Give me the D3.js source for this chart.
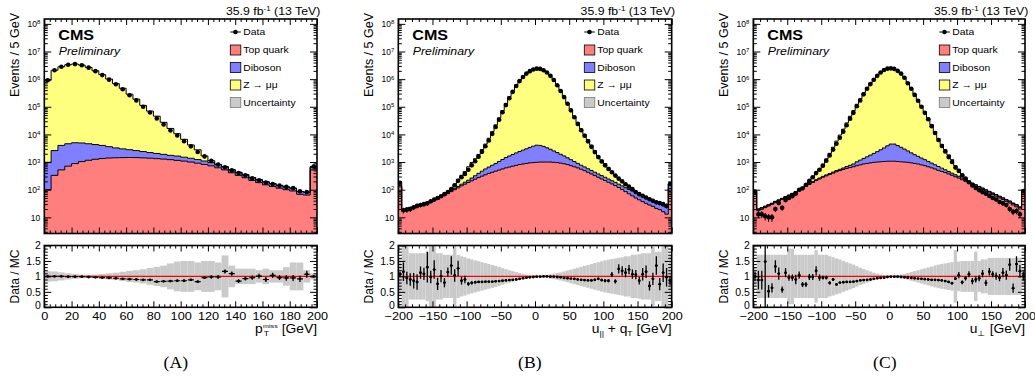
<!DOCTYPE html>
<html>
<head>
<meta charset="utf-8">
<script src="https://cdn.jsdelivr.net/npm/d3@7"></script>
<style>
  body { margin: 0; background: #fff; }
  svg { font-family: "Liberation Sans", Arial, Helvetica, sans-serif; }
</style>
</head>
<body>
<svg id="chart" width="1035" height="380"></svg>
<script>
// ---------- panel (A): p_T^miss, 40 bins of 5 GeV ----------
const ptData = [910000, 2100000, 2800000, 3300000, 3500000, 3200000, 2600000, 1950000, 1400000, 960000,
  650000, 430000, 260000, 170000, 100000, 62000, 38000, 23000, 14000, 9100,
  5700, 3700, 2300, 1600, 1100, 810, 650, 500, 400, 330,
  260, 220, 180, 160, 140, 126, 114, 87, 82, 690];
const ptTop = [100, 330, 520, 710, 880, 1040, 1160, 1260, 1340, 1400,
  1430, 1450, 1460, 1450, 1420, 1380, 1330, 1280, 1220, 1150,
  1080, 1000, 910, 820, 730, 620, 520, 410, 330, 270,
  215, 180, 150, 130, 113, 100, 90, 68, 64, 520];
const ptDiboson = [880, 2270, 3480, 3890, 4120, 3860, 3440, 3040, 2660, 2200,
  1820, 1550, 1340, 1150, 980, 820, 720, 620, 530, 500,
  420, 370, 320, 270, 220, 180, 145, 115, 92, 75,
  60, 50, 42, 35, 29, 25, 22, 17, 16, 130];
const ptZmm = [909000, 2097000, 2796000, 3328000, 3530000, 3227000, 2648000, 2006000, 1454000, 1007000,
  688000, 464400, 282900, 186300, 110000, 67460, 43730, 25480, 14720, 8930,
  5128, 2787, 1541, 577, 172, 27, 19, 5, 4, 3,
  3, 2, 2, 2, 2, 2, 2, 2, 2, 40];
const ptRatio = [1.00, 1.00, 1.00, 0.99, 0.99, 0.99, 0.98, 0.97, 0.96, 0.95,
  0.94, 0.92, 0.91, 0.90, 0.89, 0.89, 0.83, 0.84, 0.85, 0.86,
  0.86, 0.89, 0.83, 0.96, 0.98, 0.98, 1.16, 1.09, 0.85, 0.93,
  0.96, 1.01, 0.90, 1.03, 0.96, 0.95, 0.95, 0.92, 1.07, 1.00];
const ptRatioErr = [0.005, 0.005, 0.005, 0.005, 0.005, 0.005, 0.005, 0.005, 0.005, 0.006,
  0.007, 0.008, 0.01, 0.01, 0.012, 0.014, 0.016, 0.02, 0.022, 0.025,
  0.03, 0.035, 0.04, 0.045, 0.05, 0.055, 0.065, 0.07, 0.06, 0.065,
  0.07, 0.075, 0.08, 0.085, 0.08, 0.09, 0.095, 0.1, 0.11, 0.04];
const ptBand = [0.17, 0.16, 0.13, 0.1, 0.08, 0.06, 0.05, 0.06, 0.08, 0.1,
  0.12, 0.15, 0.18, 0.2, 0.23, 0.27, 0.31, 0.35, 0.42, 0.48,
  0.5, 0.5, 0.45, 0.5, 0.5, 0.45, 0.68, 0.35, 0.25, 0.25,
  0.25, 0.2, 0.25, 0.2, 0.2, 0.3, 0.45, 0.45, 0.2, 0.1];

// ---------- panel (B): u_par + q_T, 80 bins of 5 GeV ----------
const uparData = [178, 18, 19, 20, 23, 26, 28, 30, 32, 38,
  44, 50, 58, 69, 83, 105, 145, 209, 282, 372,
  525, 759, 1072, 1549, 2344, 3715, 6026, 10470, 18620, 33880,
  63100, 114800, 204200, 346700, 562300, 851100, 1202000, 1585000, 1950000, 2239000,
  2399000, 2344000, 2089000, 1738000, 1318000, 933300, 602600, 371500, 223900, 128800,
  74130, 41690, 23990, 14130, 8913, 5623, 3548, 2291, 1514, 1047,
  759, 562, 427, 324, 251, 200, 158, 129, 105, 83,
  69, 60, 52, 45, 40, 35, 33, 30, 26, 160];
const uparTop = [126, 16.6, 18.2, 20, 21.9, 24, 26.3, 28.8, 31.6, 35.5,
  39.8, 44.7, 52.5, 61.7, 72.4, 85.1, 100, 117, 138, 158,
  182, 209, 240, 275, 309, 347, 389, 427, 468, 513,
  562, 617, 661, 708, 759, 813, 851, 891, 933, 955,
  977, 1000, 1000, 1000, 1000, 977, 955, 912, 871, 813,
  741, 676, 617, 550, 490, 427, 372, 324, 282, 245,
  214, 186, 162, 141, 120, 102, 85, 71, 60, 50,
  43, 37, 32, 28, 25, 21, 19, 16, 13, 110];
const uparDiboson = [15, 2, 2, 2, 2, 3, 3, 3, 3, 4,
  4, 5, 6, 7, 8, 10, 12, 15, 20, 28,
  38, 55, 80, 115, 160, 215, 270, 340, 420, 540,
  680, 840, 1000, 1180, 1380, 1600, 1850, 2130, 2450, 2800,
  3100, 3000, 2700, 2300, 1900, 1550, 1250, 1000, 800, 620,
  480, 370, 280, 220, 175, 145, 125, 105, 90, 78,
  68, 58, 50, 44, 38, 35, 33, 31, 30, 28,
  25, 23, 20, 18, 16, 14, 12, 11, 10, 50];
const uparZmm = [25, 1, 1, 1, 1, 1, 1, 1, 1, 1,
  1, 1, 1, 1, 3, 15, 45, 105, 174, 267,
  453, 696, 1003, 1499, 2389, 3914, 6601, 11850, 21280, 38830,
  72100, 130500, 230300, 387700, 622700, 922700, 1276000, 1648000, 2007000, 2281000,
  2419000, 2364000, 2085000, 1735000, 1328000, 940000, 612700, 381100, 234000, 135600,
  78490, 44270, 25760, 15100, 9465, 5891, 3581, 2145, 1310, 867,
  600, 395, 252, 156, 93, 63, 40, 27, 15, 5,
  1, 1, 1, 1, 1, 1, 1, 1, 1, 1];
const uparRatio = [1.07, 1.15, 0.95, 0.90, 0.86, 0.82, 1.12, 1.08, 1.30, 0.98,
  1.22, 0.76, 1.01, 0.80, 1.14, 1.35, 1.03, 1.26, 0.86, 0.90,
  0.76, 0.79, 0.81, 0.82, 0.82, 0.83, 0.83, 0.83, 0.84, 0.85,
  0.86, 0.87, 0.88, 0.89, 0.90, 0.92, 0.94, 0.96, 0.97, 0.98,
  0.99, 0.99, 1.00, 1.00, 0.99, 0.99, 0.98, 0.97, 0.95, 0.94,
  0.93, 0.92, 0.90, 0.89, 0.88, 0.87, 0.87, 0.89, 0.92, 0.88,
  0.86, 0.86, 1.06, 0.84, 1.24, 1.18, 1.12, 1.22, 1.07, 1.06,
  0.86, 1.07, 1.15, 0.69, 0.92, 1.35, 0.75, 1.12, 0.97, 0.86];
const uparRatioErr = [0.08, 0.3, 0.2, 0.2, 0.25, 0.25, 0.2, 0.2, 0.5, 0.2,
  0.3, 0.2, 0.2, 0.15, 0.15, 0.3, 0.2, 0.25, 0.12, 0.12,
  0.06, 0.05, 0.04, 0.03, 0.03, 0.02, 0.02, 0.015, 0.01, 0.01,
  0.01, 0.01, 0.01, 0.01, 0.01, 0.01, 0.01, 0.01, 0.01, 0.01,
  0.01, 0.01, 0.01, 0.01, 0.01, 0.01, 0.01, 0.01, 0.01, 0.01,
  0.01, 0.01, 0.015, 0.02, 0.02, 0.02, 0.025, 0.03, 0.035, 0.04,
  0.05, 0.05, 0.08, 0.07, 0.15, 0.15, 0.15, 0.15, 0.15, 0.15,
  0.12, 0.2, 0.2, 0.15, 0.2, 0.3, 0.2, 0.3, 0.3, 0.15];
const uparBand = [0.6, 1.0, 1.0, 0.75, 0.75, 0.75, 0.75, 0.75, 0.8, 1.0,
  1.0, 0.75, 0.75, 0.7, 0.7, 0.7, 1.0, 0.7, 0.65, 0.62,
  0.58, 0.55, 0.52, 0.49, 0.46, 0.43, 0.4, 0.37, 0.34, 0.31,
  0.27, 0.23, 0.2, 0.17, 0.14, 0.11, 0.08, 0.06, 0.04, 0.03,
  0.03, 0.03, 0.04, 0.05, 0.07, 0.09, 0.11, 0.13, 0.16, 0.19,
  0.22, 0.25, 0.28, 0.31, 0.34, 0.37, 0.4, 0.43, 0.46, 0.49,
  0.52, 0.54, 0.56, 0.58, 0.6, 0.62, 0.65, 0.65, 0.7, 0.7,
  0.72, 0.75, 0.75, 0.75, 0.95, 0.8, 0.8, 1.0, 1.0, 0.7];

// ---------- panel (C): u_perp, 80 bins of 5 GeV ----------
const uperpData = [85, 13, 13, 11, 10, 10, 20, 33, 22, 42,
  50, 58, 72, 100, 112, 151, 209, 282, 398, 525,
  741, 1122, 1738, 2818, 4571, 7586, 12590, 21380, 37150, 60260,
  104700, 169800, 281800, 446700, 660700, 955000, 1318000, 1738000, 2138000, 2399000,
  2455000, 2344000, 1995000, 1585000, 1122000, 707900, 446700, 269200, 166000, 100000,
  60260, 35480, 19950, 11220, 6310, 3802, 2399, 1514, 1000, 631,
  479, 331, 251, 186, 141, 115, 95, 81, 71, 59,
  50, 44, 36, 32, 28, 20, 16, 17, 13, 89];
const uperpTop = [79, 17.4, 19.5, 22.4, 25.7, 29.5, 33.9, 38.9, 44.7, 51.3,
  58.9, 67.6, 77.6, 91.2, 110, 132, 155, 182, 214, 245,
  282, 316, 355, 398, 447, 490, 537, 589, 631, 676,
  741, 794, 851, 891, 933, 977, 1000, 1023, 1047, 1072,
  1072, 1072, 1047, 1023, 1000, 977, 933, 891, 851, 794,
  741, 676, 617, 562, 501, 457, 417, 372, 331, 295,
  263, 229, 200, 174, 151, 132, 115, 100, 87, 76,
  66, 58, 50, 44, 38, 33, 28, 24, 20, 80];
const uperpDiboson = [8, 2, 2, 2, 2, 2, 3, 3, 3, 4,
  4, 5, 6, 7, 8, 10, 12, 14, 16, 19,
  22, 26, 30, 36, 44, 55, 72, 95, 130, 175,
  280, 380, 500, 660, 850, 1080, 1380, 1750, 2200, 2800,
  3400, 3400, 2900, 2400, 1950, 1550, 1220, 960, 760, 600,
  480, 380, 300, 240, 190, 145, 110, 85, 65, 52,
  42, 35, 29, 24, 20, 17, 15, 13, 11, 10,
  9, 8, 7, 6, 5, 5, 4, 4, 3, 10];
const uperpZmm = [1, 1, 1, 1, 1, 1, 1, 1, 1, 1,
  1, 1, 1, 1, 1, 9, 46, 98, 189, 301,
  519, 948, 1684, 3003, 5223, 8938, 14930, 25390, 44540, 71750,
  122200, 194000, 318800, 500300, 732300, 1036000, 1400000, 1826000, 2224000, 2444000,
  2475000, 2363000, 2011000, 1614000, 1154000, 734900, 468000, 284500, 176900, 107300,
  65000, 38360, 21500, 11810, 6480, 3770, 2295, 1367, 824, 395,
  239, 104, 41, 10, 2, 1, 1, 1, 1, 1,
  1, 1, 1, 1, 1, 1, 1, 1, 1, 1];
const uperpRatio = [1.00, 0.88, 0.88, 1.48, 0.52, 0.63, 1.32, 1.09, 0.57, 1.12,
  0.96, 0.96, 0.90, 1.04, 0.74, 0.74, 0.98, 0.98, 1.18, 0.96,
  0.96, 0.96, 0.79, 0.90, 0.74, 0.80, 0.81, 0.82, 0.82, 0.83,
  0.85, 0.87, 0.88, 0.89, 0.90, 0.92, 0.94, 0.95, 0.96, 0.98,
  0.99, 0.99, 0.99, 0.98, 0.97, 0.96, 0.95, 0.94, 0.93, 0.92,
  0.91, 0.90, 0.89, 0.89, 0.88, 0.87, 0.85, 0.82, 0.78, 0.93,
  1.04, 0.81, 0.94, 1.07, 0.85, 0.90, 0.94, 1.09, 0.79, 1.15,
  1.07, 1.01, 0.96, 1.12, 1.04, 1.38, 0.62, 1.40, 1.17, 1.02];
const uperpRatioErr = [0.15, 0.3, 0.3, 1.6, 0.2, 0.15, 0.2, 0.2, 0.1, 0.15,
  0.1, 0.1, 0.15, 0.12, 0.08, 0.08, 0.1, 0.1, 0.15, 0.1,
  0.06, 0.06, 0.05, 0.05, 0.04, 0.03, 0.03, 0.02, 0.02, 0.015,
  0.01, 0.01, 0.01, 0.01, 0.01, 0.01, 0.01, 0.01, 0.01, 0.01,
  0.01, 0.01, 0.01, 0.01, 0.01, 0.01, 0.01, 0.01, 0.01, 0.01,
  0.01, 0.01, 0.015, 0.02, 0.02, 0.025, 0.03, 0.035, 0.04, 0.05,
  0.1, 0.06, 0.07, 0.1, 0.1, 0.1, 0.1, 0.12, 0.1, 0.12,
  0.1, 0.12, 0.12, 0.15, 0.15, 0.2, 0.15, 0.25, 0.2, 0.15];
const uperpBand = [0.3, 0.7, 0.7, 0.7, 0.7, 0.7, 0.7, 0.7, 0.7, 0.7,
  0.9, 0.9, 0.7, 0.7, 0.7, 0.7, 0.7, 0.7, 0.85, 0.7,
  0.7, 0.7, 0.65, 0.62, 0.58, 0.55, 0.5, 0.46, 0.42, 0.38,
  0.33, 0.28, 0.24, 0.2, 0.16, 0.12, 0.09, 0.06, 0.04, 0.02,
  0.02, 0.03, 0.04, 0.06, 0.08, 0.11, 0.14, 0.17, 0.2, 0.23,
  0.26, 0.29, 0.32, 0.35, 0.38, 0.4, 0.42, 0.44, 0.46, 0.85,
  0.48, 0.5, 0.5, 0.5, 0.5, 0.8, 0.5, 0.55, 0.55, 0.6,
  0.6, 0.6, 0.6, 0.6, 0.6, 0.6, 0.6, 0.6, 0.6, 0.3];

const legendLabels = ["Data", "Top quark", "Diboson", "Z \u2192 \u03bc\u03bc", "Uncertainty"];
const logTicks = [10, 1e2, 1e3, 1e4, 1e5, 1e6, 1e7, 1e8];
const ratioTicks = [0, 0.5, 1, 1.5, 2];
const binWidth = 5;

const panels = [
  { left: 44.3, right: 317, xDomain: [0, 200], major: 20, minor: 4, title: "pt", caption: "A",
    data: ptData, top: ptTop, diboson: ptDiboson, zmm: ptZmm, ratio: ptRatio, err: ptRatioErr, band: ptBand },
  { left: 398.3, right: 671.7, xDomain: [-200, 200], major: 50, minor: 10, title: "upar", caption: "B",
    data: uparData, top: uparTop, diboson: uparDiboson, zmm: uparZmm, ratio: uparRatio, err: uparRatioErr, band: uparBand },
  { left: 753.3, right: 1025, xDomain: [-200, 200], major: 50, minor: 10, title: "uperp", caption: "C",
    data: uperpData, top: uperpTop, diboson: uperpDiboson, zmm: uperpZmm, ratio: uperpRatio, err: uperpRatioErr, band: uperpBand }
];

// ---------- layout ----------
const TOP = [19, 233.5], RAT = [245.5, 307.3];
const colors = { top: "#ff7f7f", diboson: "#7f7fff", zmm: "#ffff7f", unc: "#cacaca" };
const FONT = "'Liberation Sans', Arial, Helvetica, sans-serif";
const SX = 1.15; // the original figure text is slightly stretched horizontally

const svg = d3.select("#chart");
const defs = svg.append("defs");
const yTop = d3.scaleLog().domain([2.6, 1.5e8]).range([TOP[1], TOP[0]]).clamp(true);
const yRat = d3.scaleLinear().domain([0, 2]).range([RAT[1], RAT[0]]);

panels.forEach((p, k) => drawPanel(p, k));

function tickAxis(g, axis, tr) {
  const a = g.append("g").attr("transform", tr).call(axis);
  a.select(".domain").remove();
  a.selectAll(".tick line").attr("stroke", "#000").attr("stroke-width", 1);
  a.attr("font-family", FONT);
  return a;
}

function drawPanel(p, k) {
  const g = svg.append("g");
  const x = d3.scaleLinear().domain(p.xDomain).range([p.left, p.right]);
  const lo = d3.range(p.xDomain[0], p.xDomain[1], binWidth);
  const rows = lo.map((l, i) => ({
    lo: l, hi: l + binWidth, mid: l + binWidth / 2,
    top: p.top[i], diboson: p.diboson[i], zmm: p.zmm[i],
    data: p.data[i], ratio: p.ratio[i], err: p.err[i], band: p.band[i]
  }));
  const layers = d3.stack().keys(["top", "diboson", "zmm"])(rows);

  const ct = "clipTop" + k, cr = "clipRat" + k;
  defs.append("clipPath").attr("id", ct).append("rect")
    .attr("x", p.left).attr("y", TOP[0]).attr("width", p.right - p.left).attr("height", TOP[1] - TOP[0]);
  defs.append("clipPath").attr("id", cr).append("rect")
    .attr("x", p.left).attr("y", RAT[0]).attr("width", p.right - p.left).attr("height", RAT[1] - RAT[0]);

  // ----- stacked histogram -----
  const steps = layer => layer.flatMap((s, i) => [
    { x: rows[i].lo, y0: s[0], y1: s[1] }, { x: rows[i].hi, y0: s[0], y1: s[1] }]);
  const area = d3.area().x(d => x(d.x)).y0(d => yTop(d.y0)).y1(d => yTop(d.y1));
  const edge = d3.line().x(d => x(d.x)).y(d => yTop(d.y1));
  const hist = g.append("g").attr("clip-path", `url(#${ct})`);
  hist.selectAll("path.fill").data(layers).join("path").attr("class", "fill")
    .attr("d", l => area(steps(l))).attr("fill", l => colors[l.key]);
  hist.selectAll("path.edge").data(layers).join("path").attr("class", "edge")
    .attr("d", l => edge(steps(l))).attr("fill", "none").attr("stroke", "#000").attr("stroke-width", 1);

  // data points
  hist.selectAll("line.err").data(rows).join("line").attr("class", "err")
    .attr("x1", d => x(d.mid)).attr("x2", d => x(d.mid))
    .attr("y1", d => yTop(d.data + Math.sqrt(d.data)))
    .attr("y2", d => yTop(Math.max(d.data - Math.sqrt(d.data), 0)))
    .attr("stroke", "#000").attr("stroke-width", 1);
  hist.selectAll("circle").data(rows).join("circle")
    .attr("cx", d => x(d.mid)).attr("cy", d => yTop(d.data)).attr("r", 2.3).attr("fill", "#000");

  // ----- ratio panel -----
  const rat = g.append("g").attr("clip-path", `url(#${cr})`);
  rat.selectAll("rect").data(rows).join("rect")
    .attr("x", d => x(d.lo)).attr("width", d => x(d.hi) - x(d.lo))
    .attr("y", d => yRat(1 + d.band)).attr("height", d => yRat(1 - d.band) - yRat(1 + d.band))
    .attr("fill", colors.unc);
  rat.append("line").attr("x1", p.left).attr("x2", p.right)
    .attr("y1", yRat(1)).attr("y2", yRat(1)).attr("stroke", "#ff0000").attr("stroke-width", 1.2);
  rat.selectAll("line.xe").data(rows).join("line").attr("class", "xe")
    .attr("x1", d => x(d.lo) + 0.4).attr("x2", d => x(d.hi) - 0.4)
    .attr("y1", d => yRat(d.ratio)).attr("y2", d => yRat(d.ratio))
    .attr("stroke", "#000").attr("stroke-width", 1.2);
  rat.selectAll("line.ye").data(rows).join("line").attr("class", "ye")
    .attr("x1", d => x(d.mid)).attr("x2", d => x(d.mid))
    .attr("y1", d => yRat(d.ratio - d.err)).attr("y2", d => yRat(d.ratio + d.err))
    .attr("stroke", "#000").attr("stroke-width", 1.3);
  rat.selectAll("circle").data(rows).join("circle")
    .attr("cx", d => x(d.mid)).attr("cy", d => yRat(d.ratio)).attr("r", 1.4).attr("fill", "#000");

  // ----- ticks -----
  const majorX = d3.range(p.xDomain[0], p.xDomain[1] + 0.1, p.major);
  const minorX = d3.range(p.xDomain[0], p.xDomain[1] + 0.1, p.minor).filter(v => v % p.major !== 0);
  const minorLog = d3.range(0, 9).flatMap(e => d3.range(2, 10).map(m => m * Math.pow(10, e)))
    .filter(v => v >= 2.6 && v <= 1.5e8);
  const minorRat = d3.range(0, 2.001, 0.1).filter(v => Math.abs(v * 2 - Math.round(v * 2)) > 1e-6);

  // top panel x ticks (bottom and top edges, pointing inside)
  tickAxis(g, d3.axisBottom(x).tickValues(majorX).tickSize(-6).tickFormat(""), `translate(0,${TOP[1]})`);
  tickAxis(g, d3.axisBottom(x).tickValues(minorX).tickSize(-3).tickFormat(""), `translate(0,${TOP[1]})`);
  tickAxis(g, d3.axisTop(x).tickValues(majorX).tickSize(-6).tickFormat(""), `translate(0,${TOP[0]})`);
  tickAxis(g, d3.axisTop(x).tickValues(minorX).tickSize(-3).tickFormat(""), `translate(0,${TOP[0]})`);
  // top panel log y ticks
  const ly = tickAxis(g, d3.axisLeft(yTop).tickValues(logTicks).tickSize(-7).tickPadding(4), `translate(${p.left},0)`);
  ly.selectAll(".tick text").each(function (d) {
    const t = d3.select(this).text(null).attr("font-size", 8.5).attr("fill", "#000");
    const e = Math.round(Math.log10(d));
    t.append("tspan").text("10");
    if (e !== 1) t.append("tspan").attr("dy", "-0.45em").attr("font-size", 6).text(e);
  });
  tickAxis(g, d3.axisLeft(yTop).tickValues(minorLog).tickSize(-3.5).tickFormat(""), `translate(${p.left},0)`);
  tickAxis(g, d3.axisRight(yTop).tickValues(logTicks).tickSize(-7).tickFormat(""), `translate(${p.right},0)`);
  tickAxis(g, d3.axisRight(yTop).tickValues(minorLog).tickSize(-3.5).tickFormat(""), `translate(${p.right},0)`);

  // ratio panel ticks
  const rx = tickAxis(g, d3.axisBottom(x).tickValues(majorX).tickSize(-6).tickPadding(4.5).tickFormat(d3.format("")), `translate(0,${RAT[1]})`);
  rx.selectAll(".tick text").attr("font-size", 11).attr("fill", "#000").attr("transform", `scale(${SX},1)`);
  tickAxis(g, d3.axisBottom(x).tickValues(minorX).tickSize(-3).tickFormat(""), `translate(0,${RAT[1]})`);
  tickAxis(g, d3.axisTop(x).tickValues(majorX).tickSize(-6).tickFormat(""), `translate(0,${RAT[0]})`);
  tickAxis(g, d3.axisTop(x).tickValues(minorX).tickSize(-3).tickFormat(""), `translate(0,${RAT[0]})`);
  const ry = tickAxis(g, d3.axisLeft(yRat).tickValues(ratioTicks).tickSize(-7).tickPadding(3.5).tickFormat(d3.format("")), `translate(${p.left},0)`);
  ry.selectAll(".tick text").attr("font-size", 10.5).attr("fill", "#000");
  ry.selectAll(".tick text").filter(d => d === 0).attr("dy", "0.1em");
  tickAxis(g, d3.axisLeft(yRat).tickValues(minorRat).tickSize(-3.5).tickFormat(""), `translate(${p.left},0)`);
  tickAxis(g, d3.axisRight(yRat).tickValues(ratioTicks).tickSize(-7).tickFormat(""), `translate(${p.right},0)`);
  tickAxis(g, d3.axisRight(yRat).tickValues(minorRat).tickSize(-3.5).tickFormat(""), `translate(${p.right},0)`);

  // frames
  g.append("rect").attr("x", p.left).attr("y", TOP[0]).attr("width", p.right - p.left).attr("height", TOP[1] - TOP[0])
    .attr("fill", "none").attr("stroke", "#000").attr("stroke-width", 1.6);
  g.append("rect").attr("x", p.left).attr("y", RAT[0]).attr("width", p.right - p.left).attr("height", RAT[1] - RAT[0])
    .attr("fill", "none").attr("stroke", "#000").attr("stroke-width", 1.6);

  // ----- texts -----
  const lumi = g.append("text").attr("transform", `translate(${p.right + 3.3},15) scale(${SX},1)`)
    .attr("text-anchor", "end").attr("font-size", 10.7);
  lumi.append("tspan").text("35.9 fb");
  lumi.append("tspan").attr("dy", -4).attr("font-size", 7).text("-1");
  lumi.append("tspan").attr("dy", 4).text(" (13 TeV)");

  g.append("text").attr("transform", `translate(${p.left + 14},39.5) scale(${SX},1)`)
    .attr("font-size", 14).attr("font-weight", "bold").text("CMS");
  g.append("text").attr("transform", `translate(${p.left + 14.5},55) scale(${SX},1)`)
    .attr("font-size", 10.7).attr("font-style", "italic").text("Preliminary");

  g.append("text").attr("transform", `translate(${p.left - 25},13) rotate(-90)`)
    .attr("text-anchor", "end").attr("font-size", 12.5).text("Events / 5 GeV");
  g.append("text").attr("transform", `translate(${p.left - 25},249.5) rotate(-90)`)
    .attr("text-anchor", "end").attr("font-size", 12).text("Data / MC");

  // legend
  const rowsY = [32, 50, 67.5, 85, 102.5];
  const lg = g.append("g");
  lg.append("line").attr("x1", p.left + 186).attr("x2", p.left + 196.5).attr("y1", rowsY[0]).attr("y2", rowsY[0])
    .attr("stroke", "#000").attr("stroke-width", 1);
  lg.append("circle").attr("cx", p.left + 191.2).attr("cy", rowsY[0]).attr("r", 2.3).attr("fill", "#000");
  const boxFill = [colors.top, colors.diboson, colors.zmm, colors.unc];
  boxFill.forEach((c, i) => {
    lg.append("rect").attr("x", p.left + 186).attr("y", rowsY[i + 1] - 5).attr("width", 10.5).attr("height", 10)
      .attr("fill", c).attr("stroke", i === 3 ? "#777" : "#000").attr("stroke-width", 0.8);
  });
  legendLabels.forEach((s, i) => {
    lg.append("text").attr("transform", `translate(${p.left + 199},${rowsY[i] + 3.3}) scale(${SX},1)`)
      .attr("font-size", 9).text(s);
  });

  // x axis title
  const tg = g.append("g").attr("transform", `translate(${p.right},332.5) scale(${SX},1)`);
  if (p.title === "pt") {
    const gev = tg.append("text").attr("text-anchor", "end").attr("font-size", 12).text("[GeV]");
    const w = gev.node().getComputedTextLength() + 3.5;
    const miss = tg.append("text").attr("font-size", 6.2).attr("y", -4.6).text("miss");
    const sub = tg.append("text").attr("font-size", 7.5).attr("y", 3).text("T");
    const bw = Math.max(miss.node().getComputedTextLength(), sub.node().getComputedTextLength());
    miss.attr("x", -w - bw);
    sub.attr("x", -w - bw + 0.5);
    tg.append("text").attr("text-anchor", "end").attr("font-size", 12).attr("x", -w - bw - 0.3).text("p");
  } else if (p.title === "upar") {
    const t = tg.append("text").attr("text-anchor", "end").attr("font-size", 12);
    t.append("tspan").text("u");
    t.append("tspan").attr("dy", 3).attr("font-size", 7.5).text("||");
    t.append("tspan").attr("dy", -3).text(" + q");
    t.append("tspan").attr("dy", 3).attr("font-size", 7.5).text("T");
    t.append("tspan").attr("dy", -3).text(" [GeV]");
  } else {
    const t = tg.append("text").attr("text-anchor", "end").attr("font-size", 12);
    t.append("tspan").text("u");
    t.append("tspan").attr("dy", 3).attr("font-size", 8).text("\u22a5");
    t.append("tspan").attr("dy", -3).text(" [GeV]");
  }

  // caption
  g.append("text").attr("transform", `translate(${p.left + 131.5},367.5) scale(1.1,1)`)
    .attr("text-anchor", "middle").attr("font-family", "'Liberation Serif', 'DejaVu Serif', serif")
    .attr("font-size", 16).text(`(${p.caption})`);
}
</script>
</body>
</html>
